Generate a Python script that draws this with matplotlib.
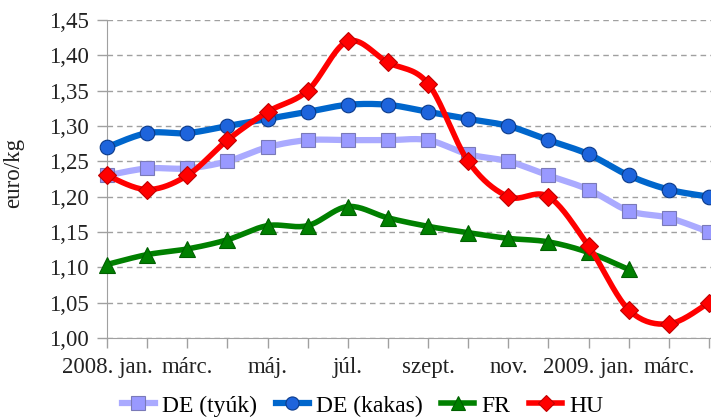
import numpy as np
import matplotlib
matplotlib.use("Agg")
import matplotlib.pyplot as plt

months = ["2008. jan.", "febr.", "márc.", "ápr.", "máj.", "jún.", "júl.", "aug.",
          "szept.", "okt.", "nov.", "dec.", "2009. jan.", "febr.", "márc.", "ápr."]
tick_labels = [m if i % 2 == 0 else "" for i, m in enumerate(months)]

de_tyuk = [1.23, 1.24, 1.24, 1.25, 1.27, 1.28, 1.28, 1.28, 1.28, 1.26, 1.25, 1.23, 1.21, 1.18, 1.17, 1.15]
de_kakas = [1.27, 1.29, 1.29, 1.30, 1.31, 1.32, 1.33, 1.33, 1.32, 1.31, 1.30, 1.28, 1.26, 1.23, 1.21, 1.20]
fr = [1.104, 1.118, 1.126, 1.139, 1.159, 1.159, 1.186, 1.170, 1.158, 1.149, 1.141, 1.136, 1.121, 1.097]
hu = [1.23, 1.21, 1.23, 1.28, 1.32, 1.35, 1.42, 1.39, 1.36, 1.25, 1.20, 1.20, 1.13, 1.04, 1.02, 1.05]

plt.rcParams['font.family'] = ['Liberation Serif', 'DejaVu Serif']

def smooth(x, y, n=20):
    x = np.asarray(x, float); y = np.asarray(y, float)
    xs, ys = [], []
    for i in range(len(x) - 1):
        p0 = (x[i-1], y[i-1]) if i > 0 else (x[i], y[i])
        p1 = (x[i], y[i]); p2 = (x[i+1], y[i+1])
        p3 = (x[i+2], y[i+2]) if i + 2 < len(x) else (x[i+1], y[i+1])
        c1 = (p1[0] + (p2[0]-p0[0])/6, p1[1] + (p2[1]-p0[1])/6)
        c2 = (p2[0] - (p3[0]-p1[0])/6, p2[1] - (p3[1]-p1[1])/6)
        t = np.linspace(0, 1, n, endpoint=(i == len(x) - 2))
        for P0, P1, P2, P3, out in [(p1[0], c1[0], c2[0], p2[0], xs), (p1[1], c1[1], c2[1], p2[1], ys)]:
            out.extend((1-t)**3*P0 + 3*(1-t)**2*t*P1 + 3*(1-t)*t**2*P2 + t**3*P3)
    return np.array(xs), np.array(ys)

fig = plt.figure(figsize=(7.11, 4.19), dpi=100)
ax = fig.add_axes([107/711, 1 - 338/419, 1 - 107/711, 318/419])

series = [
    ("DE (tyúk)", de_tyuk, "#AAAAFF", "s", "#9999FF", "#7A7AB8", 10.5, 4.5),
    ("DE (kakas)", de_kakas, "#0066CC", "o", "#1E64DC", "#0A3A8A", 10.5, 4.5),
    ("FR", fr, "#008000", "^", "#008000", "#006000", 11.5, 4),
    ("HU", hu, "#FF0000", "D", "#FF0000", "#C00000", 9, 4),
]
for z, (name, vals, lc, mk, mfc, mec, ms, lw) in enumerate(series):
    x = np.arange(len(vals))
    sx, sy = smooth(x, vals)
    ax.plot(sx, sy, color=lc, lw=lw, solid_capstyle='round', clip_on=False, zorder=3 + z)
    ax.plot(x, vals, ls='none', marker=mk, ms=ms, mfc=mfc, mec=mec, mew=0.8, clip_on=False, zorder=3 + z)
    ax.plot([], [], color=lc, lw=lw, marker=mk, ms=ms * 0.9, mfc=mfc, mec=mec, mew=0.8, label=name)

ax.set_ylim(1.0, 1.45)
ax.set_xlim(0, 15.05)
ax.set_yticks(np.arange(1.0, 1.451, 0.05))
ax.set_yticklabels([f"{v:.2f}".replace(".", ",") for v in np.arange(1.0, 1.451, 0.05)])
ax.set_xticks(np.arange(len(months)))
ax.set_xticklabels(tick_labels)
ax.grid(axis='y', ls=(0, (4, 3)), color='#A0A0A0', lw=1)
ax.set_axisbelow(True)
for s in ['top', 'right']:
    ax.spines[s].set_visible(False)
for s in ['left', 'bottom']:
    ax.spines[s].set_color('#A0A0A0')
ax.tick_params(axis='both', colors='#A0A0A0', labelcolor='#222222', labelsize=16.5, length=7.5, width=1)
ax.tick_params(axis='y', pad=5.5)
ax.tick_params(axis='x', pad=6.5)
ax.set_ylabel("euro/kg", fontsize=16.5, color='#222222')
ax.yaxis.set_label_coords(-0.137, 0.52)

fig.legend(loc='lower center', bbox_to_anchor=(0.51, -0.045), ncol=4, frameon=False,
           fontsize=17, handlelength=1.4, handletextpad=0.3, columnspacing=0.8)

fig.savefig("out.png", dpi=100)
